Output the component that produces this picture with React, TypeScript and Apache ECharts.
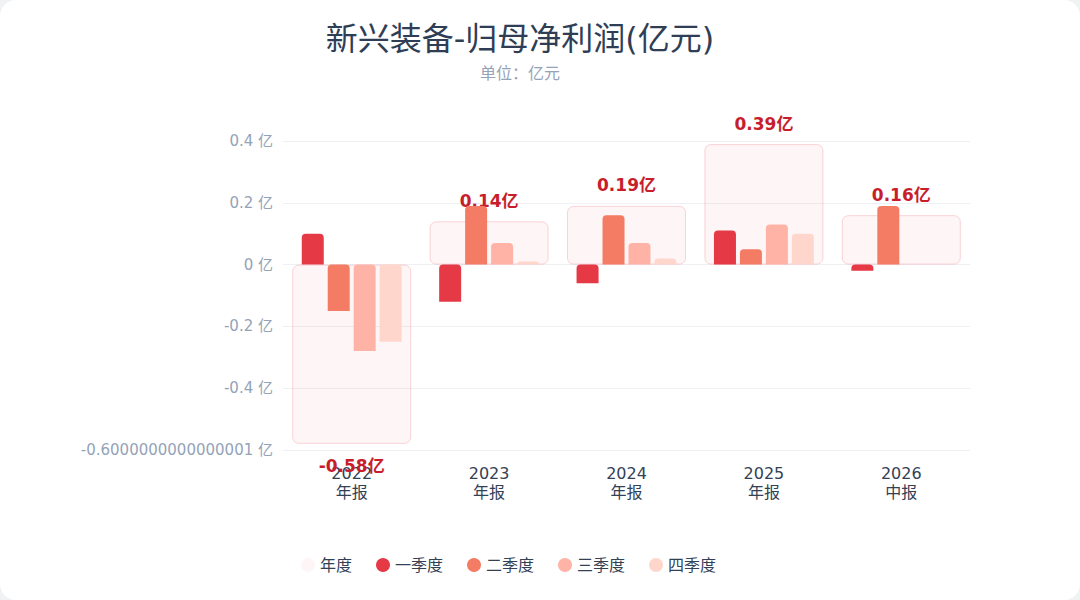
import React, { useEffect, useRef } from 'react';
import * as echarts from 'echarts';

const categories = ['2022\n年报', '2023\n年报', '2024\n年报', '2025\n年报', '2026\n中报'];
const annual = [-0.58, 0.14, 0.19, 0.39, 0.16];
const q1 = [0.1, -0.12, -0.06, 0.11, -0.02];
const q2 = [-0.15, 0.19, 0.16, 0.05, 0.19];
const q3 = [-0.28, 0.07, 0.07, 0.13, null];
const q4 = [-0.25, 0.01, 0.02, 0.1, null];
const quarterNames = ['一季度', '二季度', '三季度', '四季度'];
const quarterColors = ['#e63946', '#f47c64', '#ffb3a7', '#ffd6cc'];

const App: React.FC = () => {
  const ref = useRef<HTMLDivElement>(null);

  useEffect(() => {
    if (!ref.current) return;
    const chart = echarts.init(ref.current, undefined, { renderer: 'svg' });
    const quarters = [q1, q2, q3, q4];
    chart.setOption({
      animation: false,
      textStyle: { fontFamily: '"DejaVu Sans", "Noto Sans CJK SC", sans-serif' },
      title: {
        text: '新兴装备-归母净利润(亿元)',
        subtext: '单位：亿元',
        left: 515,
        textAlign: 'center',
        top: 18,
        itemGap: 10,
        textStyle: { fontSize: 32, fontWeight: 'normal', color: '#2f3e55' },
        subtextStyle: { fontSize: 16, color: '#94a3b8' },
      },
      legend: {
        bottom: 22,
        left: 296,
        icon: 'circle',
        itemWidth: 14,
        itemHeight: 14,
        itemGap: 24,
        itemStyle: { borderWidth: 0 },
        textStyle: { fontSize: 16, color: '#334155' },
        data: ['年度', ...quarterNames],
      },
      grid: { left: 283, right: 110, top: 141, bottom: 150 },
      xAxis: [
        {
          type: 'category',
          data: categories,
          axisLine: { show: false },
          axisTick: { show: false },
          axisLabel: { fontSize: 16, color: '#334155', lineHeight: 19, margin: 14 },
        },
        { type: 'category', data: categories, show: false },
      ],
      yAxis: {
        type: 'value',
        min: -0.6,
        max: 0.4,
        interval: 0.2,
        axisLine: { show: false },
        axisTick: { show: false },
        splitLine: { lineStyle: { color: '#eef0f3' } },
        axisLabel: {
          fontSize: 15,
          color: '#94a3b8',
          margin: 10,
          formatter: (v: number) =>
            (Math.abs(v + 0.6) < 1e-9 ? String(0.2 * -3) : String(Math.round(v * 10) / 10)) + ' 亿',
        },
      },
      series: [
        {
          name: '年度',
          type: 'bar',
          xAxisIndex: 0,
          barWidth: 119,
          data: annual.map((v) => ({
            value: v,
            label: { position: v < 0 ? 'bottom' : 'top', distance: v < 0 ? 14 : 12 },
          })),
          itemStyle: {
            color: 'rgba(230,57,70,0.05)',
            borderColor: 'rgba(230,57,70,0.2)',
            borderWidth: 1,
            borderRadius: 6,
          },
          label: {
            show: true,
            formatter: (p: any) => `${p.value}亿`,
            color: '#c81e2c',
            fontWeight: 'bold',
            fontSize: 17,
          },
          z: 1,
        },
        ...quarters.map((d, i) => ({
          name: quarterNames[i],
          type: 'bar',
          xAxisIndex: 1,
          data: d,
          barWidth: 22,
          barGap: '18%',
          barCategoryGap: '27%',
          itemStyle: { color: quarterColors[i], borderRadius: [4, 4, 0, 0] },
          z: 2,
        })),
      ],
    });
    return () => chart.dispose();
  }, []);

  return (
    <div style={{ position: 'fixed', inset: 0, background: '#f1f2f4' }}>
      <div style={{ position: 'absolute', inset: 0, background: '#fff', borderRadius: 16 }}>
        <div ref={ref} style={{ width: 1080, height: 600 }} />
      </div>
    </div>
  );
};

export default App;
